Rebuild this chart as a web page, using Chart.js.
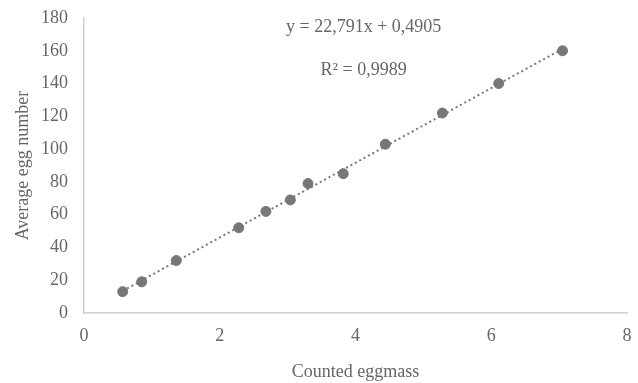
<!DOCTYPE html>
<html>
<head>
<meta charset="utf-8">
<script src="https://cdn.jsdelivr.net/npm/chart.js@4/dist/chart.umd.min.js"></script>
<style>
html,body{margin:0;padding:0;background:#fff;}
#wrap{width:638px;height:383px;position:relative;}
</style>
</head>
<body>
<div id="wrap"><canvas id="c" width="638" height="383"></canvas></div>
<script>
// Data
const countedEggmass = [0.57, 0.85, 1.36, 2.28, 2.68, 3.04, 3.30, 3.82, 4.44, 5.28, 6.11, 7.05];
const averageEggNumber = [13, 19, 32, 52, 62, 69, 79, 85, 103, 122, 140, 160];
const trendSlope = 22.791;
const trendIntercept = 0.4905;
const equationLabel = "y = 22,791x + 0,4905";
const r2Label = "R² = 0,9989";
const xTitle = "Counted eggmass";
const yTitle = "Average egg number";

const FONT = '"Liberation Serif", "Times New Roman", serif';
const TXT = '#666666';

const points = countedEggmass.map((x, i) => ({x: x, y: averageEggNumber[i]}));
const xMin = Math.min(...countedEggmass), xMax = Math.max(...countedEggmass);
const trend = [xMin, xMax].map(x => ({x: x, y: trendSlope * x + trendIntercept}));

const labelPlugin = {
  id: 'eqLabels',
  afterDatasetsDraw(chart) {
    const ctx = chart.ctx;
    const xs = chart.scales.x, ys = chart.scales.y;
    ctx.save();
    ctx.font = '18px ' + FONT;
    ctx.fillStyle = TXT;
    ctx.textAlign = 'center';
    ctx.textBaseline = 'middle';
    ctx.fillText(equationLabel, xs.getPixelForValue(4.12), ys.getPixelForValue(174.5));
    ctx.fillText(r2Label, xs.getPixelForValue(4.12), ys.getPixelForValue(148.3));
    ctx.restore();
  }
};

new Chart(document.getElementById('c'), {
  type: 'scatter',
  data: {
    datasets: [
      {
        data: points,
        backgroundColor: '#777777',
        borderColor: '#777777',
        pointRadius: 5,
        pointHoverRadius: 5,
        showLine: false,
        order: 0
      },
      {
        type: 'line',
        data: trend,
        borderColor: '#777777',
        borderWidth: 2,
        borderDash: [2, 3],
        pointRadius: 0,
        fill: false,
        order: 1
      }
    ]
  },
  options: {
    responsive: false,
    animation: false,
    events: [],
    layout: {autoPadding: false, padding: {left: 0, right: 11, top: 18, bottom: 0}},
    plugins: {legend: {display: false}, tooltip: {enabled: false}},
    scales: {
      x: {
        type: 'linear',
        min: 0, max: 8,
        ticks: {stepSize: 2, color: TXT, font: {family: FONT, size: 18}, padding: 12},
        grid: {display: false, drawTicks: false},
        border: {display: true, color: '#d0d0d0', width: 1.5},
        title: {display: true, text: xTitle, color: TXT, font: {family: FONT, size: 18}, padding: {top: 0, bottom: 0}},
        afterFit(s) { s.height = 70; s.paddingLeft = 0; s.paddingRight = 0; }
      },
      y: {
        min: 0, max: 180,
        ticks: {stepSize: 20, color: TXT, font: {family: FONT, size: 18}, padding: 16},
        grid: {display: false, drawTicks: false},
        border: {display: true, color: '#d0d0d0', width: 1.5},
        title: {display: true, text: yTitle, color: TXT, font: {family: FONT, size: 18}, padding: {top: 12, bottom: 0}},
        afterFit(s) { s.width = 84; s.paddingTop = 0; s.paddingBottom = 0; }
      }
    }
  },
  plugins: [labelPlugin]
});
</script>
</body>
</html>
